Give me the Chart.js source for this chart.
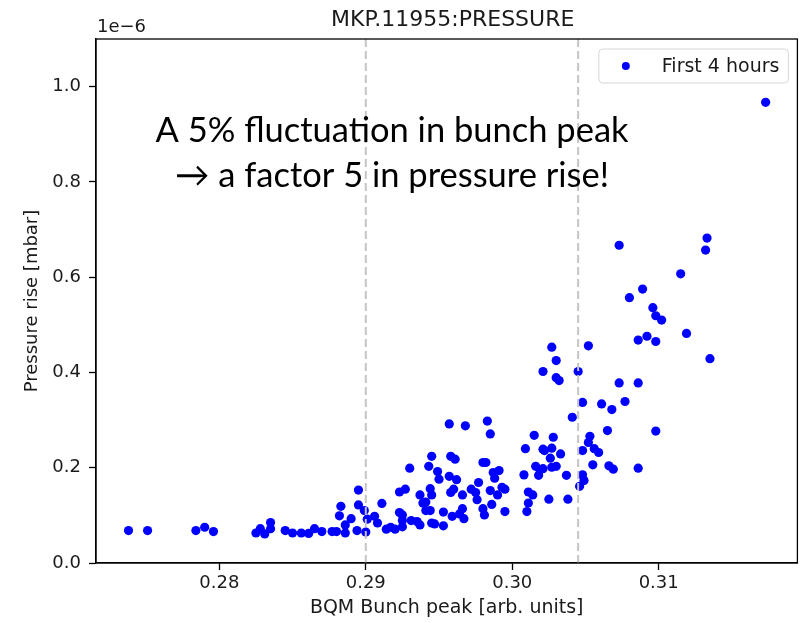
<!DOCTYPE html>
<html>
<head>
<meta charset="utf-8">
<title>MKP.11955:PRESSURE</title>
<script src="https://cdn.jsdelivr.net/npm/chart.js@4.4.1/dist/chart.umd.min.js"></script>
<style>
  html, body { margin: 0; padding: 0; background: #ffffff; }
  #wrap { width: 802px; height: 623px; }
</style>
</head>
<body>
<div id="wrap"><canvas id="pressureChart" width="802" height="623"></canvas></div>
<script>
// BQM bunch peak [arb. units]
const bunchPeak = [
  0.2738, 0.2751, 0.2784, 0.2790, 0.2796, 0.2825, 0.2828, 0.2831, 0.2835, 0.2835,
  0.2845, 0.2850, 0.2856, 0.2861, 0.2865, 0.2870, 0.2877, 0.2880, 0.2886, 0.2894,
  0.2900, 0.2886, 0.2890, 0.2882, 0.2883, 0.2895, 0.2895, 0.2899, 0.2901, 0.2906,
  0.2908, 0.2911, 0.2914, 0.2920, 0.2917, 0.2923, 0.2925, 0.2925, 0.2925, 0.2923,
  0.2927, 0.2930, 0.2931, 0.2935, 0.2937, 0.2937, 0.2939, 0.2941, 0.2941, 0.2944,
  0.2944, 0.2945, 0.2943, 0.2945, 0.2949, 0.2950, 0.2945, 0.2947, 0.2953, 0.2953,
  0.2957, 0.2958, 0.2961, 0.2957, 0.2962, 0.2960, 0.2958, 0.2959, 0.2964, 0.2966,
  0.2967, 0.2968, 0.2983, 0.2985, 0.2966, 0.2972, 0.2975, 0.2977, 0.2976, 0.2980,
  0.2982, 0.2987, 0.2988, 0.2991, 0.2985, 0.2990, 0.2993, 0.2995, 0.2986, 0.2980,
  0.2981, 0.2995,
  0.3008, 0.3009, 0.3015, 0.3021, 0.3022, 0.3027, 0.3028, 0.3026,
  0.3033, 0.3016, 0.3019, 0.3018, 0.3021, 0.3027, 0.3030, 0.3037, 0.3011, 0.3014,
  0.3011, 0.3010, 0.3025, 0.3038, 0.3021, 0.3027, 0.3030, 0.3030, 0.3032, 0.3045,
  0.3052, 0.3073, 0.3041, 0.3048, 0.3061, 0.3068, 0.3065, 0.3053, 0.3052, 0.3048,
  0.3056, 0.3059, 0.3055, 0.3066, 0.3069, 0.3048, 0.3049, 0.3046, 0.3073, 0.3133,
  0.3132, 0.3115, 0.3089, 0.3080, 0.3096, 0.3098, 0.3102, 0.3119, 0.3086, 0.3092,
  0.3098, 0.3135, 0.3086, 0.3077, 0.3098, 0.3086, 0.3173
];

// pressure rise, in units of 1e-6 mbar
const pressureRise = [
  0.068, 0.068, 0.068, 0.075, 0.066, 0.063, 0.072, 0.061, 0.085, 0.072,
  0.068, 0.063, 0.063, 0.062, 0.072, 0.066, 0.066, 0.066, 0.063, 0.068,
  0.065, 0.080, 0.093, 0.099, 0.119, 0.122, 0.153, 0.110, 0.092, 0.098,
  0.084, 0.125, 0.071, 0.071, 0.075, 0.106, 0.101, 0.089, 0.076, 0.149,
  0.155, 0.199, 0.089, 0.087, 0.080, 0.143, 0.126, 0.128, 0.110, 0.110,
  0.156, 0.143, 0.203, 0.224, 0.192, 0.176, 0.084, 0.082, 0.107, 0.078,
  0.292, 0.224, 0.218, 0.182, 0.175, 0.155, 0.148, 0.098, 0.103, 0.114,
  0.093, 0.288, 0.298, 0.271, 0.143, 0.155, 0.148, 0.169, 0.133, 0.211,
  0.211, 0.190, 0.178, 0.194, 0.152, 0.143, 0.159, 0.155, 0.123, 0.114,
  0.101, 0.108,
  0.185, 0.240, 0.268, 0.239, 0.236, 0.241, 0.264, 0.220,
  0.229, 0.203, 0.196, 0.184, 0.198, 0.201, 0.203, 0.184, 0.149, 0.143,
  0.126, 0.108, 0.134, 0.134, 0.402, 0.453, 0.425, 0.389, 0.383, 0.402,
  0.456, 0.378, 0.306, 0.337, 0.334, 0.322, 0.278, 0.266, 0.253, 0.236,
  0.240, 0.232, 0.206, 0.204, 0.197, 0.185, 0.173, 0.161, 0.667, 0.682,
  0.657, 0.607, 0.575, 0.557, 0.536, 0.519, 0.510, 0.482, 0.468, 0.476,
  0.465, 0.429, 0.378, 0.339, 0.277, 0.199, 0.967
];

// +/- 5% window in bunch peak (dashed markers)
const windowEdges = [0.29, 0.3045];

const xTicks = [0.28, 0.29, 0.30, 0.31];
const yTicks = [0.0, 0.2, 0.4, 0.6, 0.8, 1.0];
const xRange = [0.27158, 0.31947];
const yRange = [0, 1.1];

const TITLE = "MKP.11955:PRESSURE";
const SERIES_LABEL = "First 4 hours";
const NOTE_LINES = ["A 5% fluctuation in bunch peak", "\u2192 a factor 5 in pressure rise!"];

const COLORS = {
  points: "#0000ff",
  dash: "#c4c4c4",
  axis: "#000000",
  text: "#1a1a1a",
  legendEdge: "#d6d6d6"
};

const MPL_FONT = "'DejaVu Sans', sans-serif";

/* ================================
   DATASETS
================================ */
const scatterPoints = bunchPeak.map((x, i) => ({ x, y: pressureRise[i] }));

const windowDatasets = windowEdges.map(x => ({
  label: "edge",
  type: "line",
  data: [{ x, y: yRange[0] }, { x, y: yRange[1] }],
  borderColor: COLORS.dash,
  borderWidth: 2,
  borderDash: [8, 4],
  pointRadius: 0,
  fill: false,
  order: 0
}));

/* ================================
   PLUGINS
================================ */
const frameAndText = {
  id: "frameAndText",
  afterDraw(chart) {
    const { ctx, chartArea } = chart;
    const { left, right, top, bottom } = chartArea;

    ctx.save();

    // full box like matplotlib spines
    ctx.strokeStyle = COLORS.axis;
    ctx.lineWidth = 1.3;
    ctx.strokeRect(left, top, right - left, bottom - top);

    // title over the axes
    ctx.fillStyle = COLORS.text;
    ctx.textAlign = "center";
    ctx.textBaseline = "alphabetic";
    ctx.font = `22px ${MPL_FONT}`;
    ctx.fillText(TITLE, (left + right) / 2 + 6, 26);

    // offset text for the y axis
    ctx.textAlign = "left";
    ctx.font = `18px ${MPL_FONT}`;
    ctx.fillText("1e\u22126", left + 1, 32);

    // legend
    ctx.font = `19px ${MPL_FONT}`;
    const legendText = chart.data.datasets[0].label;
    const textW = ctx.measureText(legendText).width;
    const boxW = 63 + textW + 9;
    const boxH = 34;
    const boxX = right - 9 - boxW;
    const boxY = top + 10;
    ctx.beginPath();
    ctx.roundRect(boxX, boxY, boxW, boxH, 4);
    ctx.fillStyle = "rgba(255,255,255,0.85)";
    ctx.fill();
    ctx.strokeStyle = COLORS.legendEdge;
    ctx.lineWidth = 1;
    ctx.stroke();

    ctx.beginPath();
    ctx.arc(boxX + 27, boxY + boxH / 2, 4, 0, Math.PI * 2);
    ctx.fillStyle = chart.data.datasets[0].backgroundColor;
    ctx.fill();

    ctx.fillStyle = COLORS.text;
    ctx.textBaseline = "middle";
    ctx.fillText(legendText, boxX + 63, boxY + boxH / 2 + 1);

    // annotation
    ctx.fillStyle = "#000000";
    ctx.textAlign = "center";
    ctx.textBaseline = "alphabetic";
    ctx.font = "34.5px Lato, 'Open Sans', sans-serif";
    ctx.fillText(NOTE_LINES[0], 392, 142);
    ctx.fillText(NOTE_LINES[1], 392, 187);

    ctx.restore();
  }
};

/* ================================
   CHART
================================ */
function renderPressureChart() {
  const canvas = document.getElementById("pressureChart");
  if (!canvas) {
    console.warn("canvas 'pressureChart' not found");
    return;
  }

  new Chart(canvas, {
    type: "scatter",
    data: {
      datasets: [
        {
          label: SERIES_LABEL,
          data: scatterPoints,
          backgroundColor: COLORS.points,
          borderColor: COLORS.points,
          borderWidth: 0,
          pointRadius: 4.6,
          order: 1
        },
        ...windowDatasets
      ]
    },
    options: {
      responsive: false,
      animation: false,
      layout: { padding: { top: 39, right: 4, left: 0, bottom: 0 } },
      plugins: {
        legend: { display: false },
        title: { display: false },
        tooltip: { enabled: false }
      },
      scales: {
        x: {
          type: "linear",
          min: xRange[0],
          max: xRange[1],
          afterBuildTicks: axis => { axis.ticks = xTicks.map(v => ({ value: v })); },
          afterFit: axis => { axis.height = 60; },
          border: { display: true, color: COLORS.axis, width: 1.3 },
          grid: {
            drawOnChartArea: false,
            drawTicks: true,
            tickLength: 7,
            tickColor: COLORS.axis,
            tickWidth: 1.3
          },
          ticks: {
            color: COLORS.text,
            font: { family: MPL_FONT, size: 18 },
            padding: 3,
            maxRotation: 0,
            callback: v => v.toFixed(2)
          },
          title: {
            display: true,
            text: "BQM Bunch peak [arb. units]",
            color: COLORS.text,
            font: { family: MPL_FONT, size: 19 },
            padding: { top: 0, bottom: 4 }
          }
        },
        y: {
          type: "linear",
          min: yRange[0],
          max: yRange[1],
          afterBuildTicks: axis => { axis.ticks = yTicks.map(v => ({ value: v })); },
          afterFit: axis => { axis.width = 96; },
          border: { display: true, color: COLORS.axis, width: 1.3 },
          grid: {
            drawOnChartArea: false,
            drawTicks: true,
            tickLength: 7,
            tickColor: COLORS.axis,
            tickWidth: 1.3
          },
          ticks: {
            color: COLORS.text,
            font: { family: MPL_FONT, size: 18 },
            padding: 8,
            callback: v => v.toFixed(1)
          },
          title: {
            display: true,
            text: "Pressure rise [mbar]",
            color: COLORS.text,
            font: { family: MPL_FONT, size: 18 },
            padding: { top: 22, bottom: 0 }
          }
        }
      }
    },
    plugins: [frameAndText]
  });
}

renderPressureChart();
</script>
</body>
</html>
